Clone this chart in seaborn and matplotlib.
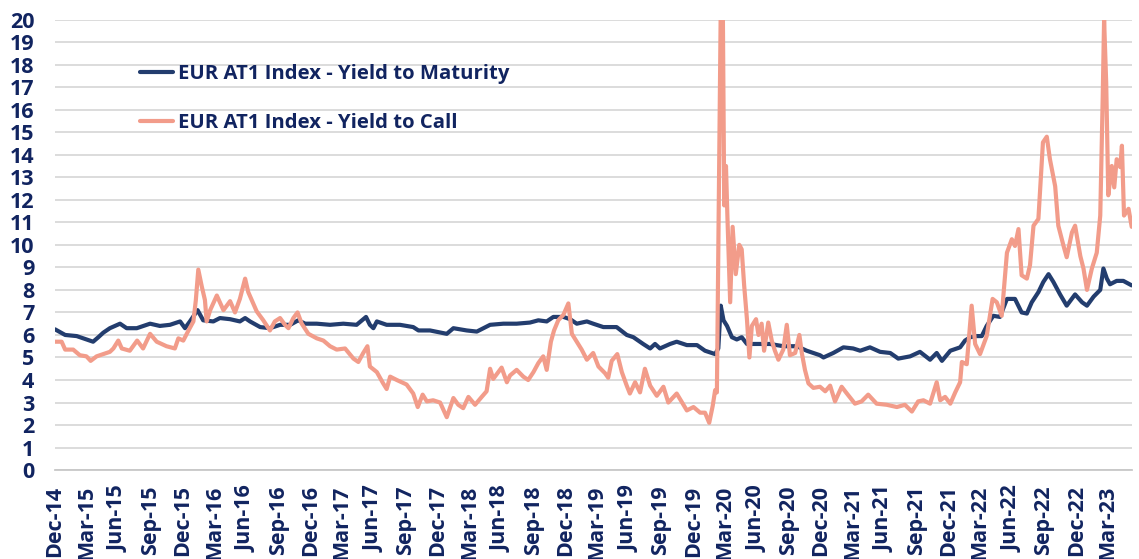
import pandas as pd
import seaborn as sns
import matplotlib.pyplot as plt
import matplotlib.dates as mdates
from matplotlib import font_manager

# Series values (yield, %)
ytm_dates = [
    "2014-12-31", "2015-01-29", "2015-03-03", "2015-03-31", "2015-04-19", "2015-05-04", "2015-05-18",
    "2015-06-06", "2015-07-05", "2015-07-24", "2015-08-22", "2015-09-29", "2015-10-27", "2015-11-25",
    "2015-12-24", "2016-01-07", "2016-01-21", "2016-02-12", "2016-02-28", "2016-03-28", "2016-04-16",
    "2016-05-15", "2016-06-12", "2016-06-27", "2016-07-11", "2016-08-09", "2016-09-06", "2016-10-05",
    "2016-11-03", "2016-11-26", "2016-12-16", "2017-01-18", "2017-02-25", "2017-04-04", "2017-05-12",
    "2017-06-08", "2017-06-19", "2017-06-29", "2017-07-09", "2017-08-06", "2017-09-13", "2017-10-21",
    "2017-11-05", "2017-12-08", "2018-01-25", "2018-02-13", "2018-03-23", "2018-04-21", "2018-05-29",
    "2018-07-06", "2018-08-13", "2018-09-20", "2018-10-14", "2018-11-07", "2018-11-26", "2018-12-25",
    "2019-01-13", "2019-02-01", "2019-03-02", "2019-03-20", "2019-04-18", "2019-05-26", "2019-06-24",
    "2019-07-13", "2019-08-10", "2019-08-30", "2019-09-13", "2019-09-27", "2019-10-26", "2019-11-14",
    "2019-12-13", "2020-01-11", "2020-02-03", "2020-03-03", "2020-03-12", "2020-03-19", "2020-03-27",
    "2020-04-06", "2020-04-20", "2020-05-04", "2020-05-18", "2020-06-02", "2020-06-30", "2020-08-07",
    "2020-09-14", "2020-10-23", "2020-11-20", "2020-12-28", "2021-01-07", "2021-02-04", "2021-03-05",
    "2021-04-02", "2021-04-22", "2021-05-20", "2021-06-18", "2021-07-17", "2021-08-09", "2021-09-12",
    "2021-10-10", "2021-11-08", "2021-11-27", "2021-12-12", "2022-01-05", "2022-02-02", "2022-02-16",
    "2022-03-03", "2022-03-22", "2022-04-05", "2022-04-19", "2022-05-08", "2022-05-27", "2022-06-16",
    "2022-07-09", "2022-07-28", "2022-08-12", "2022-08-26", "2022-09-14", "2022-09-28", "2022-10-13",
    "2022-10-27", "2022-11-15", "2022-12-04", "2022-12-28", "2023-01-17", "2023-01-31", "2023-02-19",
    "2023-03-10", "2023-03-19", "2023-03-29", "2023-04-07", "2023-04-26", "2023-05-15", "2023-06-08",
]
ytm_values = [
    6.25, 6.0, 5.95, 5.8, 5.7, 5.9, 6.1,
    6.3, 6.5, 6.3, 6.3, 6.5, 6.4, 6.45,
    6.6, 6.3, 6.6, 7.1, 6.65, 6.6, 6.75,
    6.7, 6.6, 6.75, 6.6, 6.35, 6.3, 6.45,
    6.45, 6.65, 6.5, 6.5, 6.45, 6.5, 6.45,
    6.8, 6.45, 6.3, 6.6, 6.45, 6.45, 6.35,
    6.2, 6.2, 6.05, 6.3, 6.2, 6.15, 6.45,
    6.5, 6.5, 6.55, 6.65, 6.6, 6.8, 6.8,
    6.7, 6.5, 6.6, 6.5, 6.35, 6.35, 6.0,
    5.9, 5.6, 5.4, 5.6, 5.4, 5.6, 5.7,
    5.55, 5.55, 5.3, 5.15, 5.4, 7.3, 6.65,
    6.4, 5.9, 5.8, 5.9, 5.6, 5.6, 5.6,
    5.5, 5.5, 5.3, 5.1, 5.0, 5.2, 5.45,
    5.4, 5.3, 5.45, 5.25, 5.2, 4.95, 5.05,
    5.25, 4.9, 5.2, 4.85, 5.3, 5.45, 5.75,
    5.9, 5.95, 5.95, 6.4, 6.85, 6.8, 7.6,
    7.6, 7.0, 6.95, 7.45, 7.9, 8.35, 8.7,
    8.35, 7.8, 7.3, 7.8, 7.45, 7.3, 7.7,
    8.0, 8.95, 8.5, 8.25, 8.4, 8.4, 8.2,
]

ytc_dates = [
    "2014-12-31", "2015-01-19", "2015-01-29", "2015-02-21", "2015-03-12", "2015-03-31", "2015-04-12",
    "2015-04-29", "2015-05-18", "2015-06-06", "2015-06-16", "2015-06-30", "2015-07-10", "2015-08-02",
    "2015-08-23", "2015-09-09", "2015-09-29", "2015-10-18", "2015-11-15", "2015-12-09", "2015-12-19",
    "2016-01-02", "2016-01-17", "2016-01-31", "2016-02-07", "2016-02-14", "2016-02-24", "2016-03-04",
    "2016-03-09", "2016-03-19", "2016-04-07", "2016-04-26", "2016-05-15", "2016-05-29", "2016-06-12",
    "2016-06-27", "2016-07-06", "2016-07-16", "2016-07-30", "2016-08-18", "2016-09-06", "2016-09-20",
    "2016-10-05", "2016-10-19", "2016-10-29", "2016-11-12", "2016-11-24", "2016-12-06", "2016-12-25",
    "2017-01-18", "2017-02-06", "2017-02-25", "2017-03-16", "2017-04-09", "2017-05-03", "2017-05-17",
    "2017-05-31", "2017-06-12", "2017-06-19", "2017-07-09", "2017-07-27", "2017-08-06", "2017-08-16",
    "2017-09-04", "2017-10-02", "2017-10-21", "2017-11-03", "2017-11-17", "2017-11-29", "2017-12-17",
    "2018-01-06", "2018-01-25", "2018-02-13", "2018-02-27", "2018-03-13", "2018-03-28", "2018-04-16",
    "2018-05-05", "2018-05-19", "2018-05-29", "2018-06-07", "2018-06-19", "2018-07-01", "2018-07-16",
    "2018-07-25", "2018-08-13", "2018-09-01", "2018-09-15", "2018-09-30", "2018-10-14", "2018-10-28",
    "2018-11-07", "2018-11-19", "2018-11-28", "2018-12-10", "2018-12-25", "2019-01-08", "2019-01-18",
    "2019-02-01", "2019-02-15", "2019-03-02", "2019-03-20", "2019-04-04", "2019-04-23", "2019-05-02",
    "2019-05-12", "2019-05-28", "2019-06-10", "2019-06-24", "2019-07-03", "2019-07-18", "2019-08-01",
    "2019-08-15", "2019-08-30", "2019-09-18", "2019-10-07", "2019-10-21", "2019-11-14", "2019-12-13",
    "2020-01-01", "2020-01-20", "2020-02-03", "2020-02-15", "2020-02-25", "2020-03-03", "2020-03-08",
    "2020-03-12", "2020-03-19", "2020-03-25", "2020-03-29", "2020-04-03", "2020-04-07", "2020-04-15",
    "2020-04-22", "2020-05-01", "2020-05-11", "2020-05-18", "2020-05-25", "2020-06-02", "2020-06-09",
    "2020-06-16", "2020-06-28", "2020-07-05", "2020-07-14", "2020-07-21", "2020-08-02", "2020-08-12",
    "2020-08-21", "2020-08-31", "2020-09-14", "2020-09-24", "2020-10-03", "2020-10-18", "2020-10-30",
    "2020-11-06", "2020-11-15", "2020-11-25", "2020-12-09", "2020-12-28", "2021-01-12", "2021-01-26",
    "2021-02-09", "2021-02-28", "2021-03-15", "2021-04-07", "2021-04-26", "2021-05-15", "2021-06-08",
    "2021-07-07", "2021-08-05", "2021-08-28", "2021-09-17", "2021-10-05", "2021-10-20", "2021-11-08",
    "2021-11-27", "2021-12-07", "2021-12-21", "2022-01-05", "2022-01-19", "2022-02-02", "2022-02-07",
    "2022-02-21", "2022-03-07", "2022-03-17", "2022-03-31", "2022-04-19", "2022-05-06", "2022-05-18",
    "2022-06-01", "2022-06-16", "2022-06-30", "2022-07-09", "2022-07-19", "2022-07-28", "2022-08-12",
    "2022-08-21", "2022-08-31", "2022-09-14", "2022-09-27", "2022-10-08", "2022-10-17", "2022-11-01",
    "2022-11-10", "2022-11-25", "2022-12-04", "2022-12-19", "2022-12-28", "2023-01-12", "2023-01-21",
    "2023-01-31", "2023-02-14", "2023-02-28", "2023-03-10", "2023-03-17", "2023-03-21", "2023-03-27",
    "2023-04-02", "2023-04-12", "2023-04-19", "2023-04-26", "2023-05-06", "2023-05-11", "2023-05-17",
    "2023-05-30", "2023-06-08",
]
ytc_values = [
    5.7, 5.7, 5.35, 5.35, 5.1, 5.05, 4.85,
    5.05, 5.15, 5.25, 5.4, 5.75, 5.4, 5.3,
    5.75, 5.4, 6.05, 5.7, 5.5, 5.4, 5.85,
    5.75, 6.2, 6.6, 7.55, 8.9, 8.15, 7.55,
    6.6, 7.1, 7.75, 7.1, 7.5, 7.0, 7.6,
    8.5, 7.9, 7.55, 7.05, 6.65, 6.2, 6.6,
    6.75, 6.45, 6.3, 6.75, 7.0, 6.5, 6.05,
    5.85, 5.75, 5.5, 5.35, 5.4, 4.95, 4.8,
    5.2, 5.5, 4.6, 4.35, 3.85, 3.6, 4.15,
    4.0, 3.8, 3.4, 2.8, 3.35, 3.05, 3.1,
    3.0, 2.35, 3.2, 2.9, 2.75, 3.25, 2.9,
    3.25, 3.5, 4.5, 4.05, 4.3, 4.55, 3.9,
    4.2, 4.45, 4.15, 4.0, 4.35, 4.75, 5.05,
    4.45, 5.7, 6.2, 6.65, 6.9, 7.4, 6.05,
    5.7, 5.35, 4.9, 5.2, 4.6, 4.3, 4.1,
    4.85, 5.15, 4.35, 3.75, 3.4, 3.9, 3.45,
    4.5, 3.75, 3.3, 3.7, 3.0, 3.4, 2.65,
    2.8, 2.55, 2.55, 2.1, 2.85, 3.55, 3.45,
    9.8, 20.5, 20.5, 11.75, 13.5, 11.3, 7.45,
    10.8, 8.7, 10.0, 9.8, 8.2, 6.7, 5.0,
    6.4, 6.7, 6.0, 6.5, 5.3, 6.55, 5.75,
    5.3, 4.9, 5.35, 6.45, 5.1, 5.2, 6.0,
    5.2, 4.45, 3.85, 3.65, 3.7, 3.5, 3.75,
    3.05, 3.7, 3.4, 2.95, 3.05, 3.35, 2.95,
    2.9, 2.8, 2.9, 2.6, 3.05, 3.1, 2.95,
    3.9, 3.1, 3.25, 2.95, 3.45, 3.9, 4.8,
    4.7, 7.3, 5.6, 5.15, 5.95, 7.6, 7.45,
    6.85, 9.65, 10.25, 9.95, 10.7, 8.65, 8.5,
    9.1, 10.85, 11.15, 14.55, 14.8, 13.8, 12.6,
    10.85, 9.95, 9.45, 10.55, 10.85, 9.5, 8.95,
    8.0, 8.95, 9.65, 11.3, 16.5, 20.0, 17.2,
    12.2, 13.5, 12.55, 13.8, 13.45, 14.4, 11.3,
    11.6, 10.8,
]

series_names = ["EUR AT1 Index - Yield to Maturity", "EUR AT1 Index - Yield to Call"]
y_ticks = list(range(0, 21))

navy = "#233D6E"
salmon = "#F29C8A"
text_col = "#112460"

df = pd.concat([
    pd.DataFrame({"date": pd.to_datetime(ytm_dates), "value": ytm_values, "series": series_names[0]}),
    pd.DataFrame({"date": pd.to_datetime(ytc_dates), "value": ytc_values, "series": series_names[1]}),
], ignore_index=True)

sns.set_style("white")
plt.rcParams["font.family"] = ["Open Sans", "DejaVu Sans"]
plt.rcParams["font.weight"] = "bold"
tick_font = font_manager.FontProperties(family=["Open Sans", "DejaVu Sans"], weight="bold", size=15.5)
legend_font = font_manager.FontProperties(family=["Open Sans", "DejaVu Sans"], weight="bold", size=14.6)

fig, ax = plt.subplots(figsize=(11.39, 5.59), dpi=100)
fig.subplots_adjust(left=0.0483, right=0.9939, top=0.965, bottom=0.159)

sns.lineplot(data=df, x="date", y="value", hue="series", hue_order=series_names,
             palette=[navy, salmon], estimator=None, linewidth=3.0, ax=ax)

ax.set_ylim(0, 20)
ax.set_xlim(pd.Timestamp("2014-12-31"), pd.Timestamp("2023-06-09"))
ax.set_yticks(y_ticks)
ax.set_xticks(pd.date_range("2014-12-31", "2023-03-31", freq=pd.offsets.QuarterEnd()))
ax.xaxis.set_major_formatter(mdates.DateFormatter("%b-%y"))
ax.set_xlabel("")
ax.set_ylabel("")

ax.grid(axis="y", color="#D9D9D9", linewidth=1.3)
ax.set_axisbelow(True)
for s in ["top", "right", "left"]:
    ax.spines[s].set_visible(False)
ax.spines["bottom"].set_color("#C8C8C8")
ax.spines["bottom"].set_linewidth(1.3)

ax.tick_params(axis="y", length=0, pad=15, labelcolor=text_col)
ax.tick_params(axis="x", length=6, width=1.2, color="#C8C8C8", pad=5,
               labelcolor=text_col, labelrotation=90)
for lab in ax.get_xticklabels() + ax.get_yticklabels():
    lab.set_fontproperties(tick_font)

leg = ax.legend(loc="upper left", bbox_to_anchor=(0.079, 0.902), frameon=False,
                borderpad=0, borderaxespad=0, handlelength=1.6, handletextpad=0.25,
                labelspacing=1.45, prop=legend_font)
for t in leg.get_texts():
    t.set_color(text_col)

fig.savefig("out.png", dpi=100)
